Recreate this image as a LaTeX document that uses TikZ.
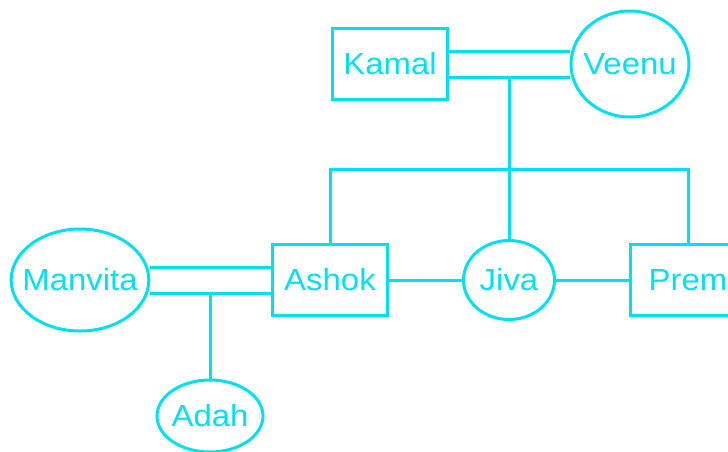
\documentclass[tikz,border=0pt]{standalone}
\usepackage{fontspec}
\setmainfont{Liberation Sans}[FakeStretch=1.08]
\usetikzlibrary{shapes.geometric}
\definecolor{famcyan}{RGB}{0,224,242}

\begin{document}
\begin{tikzpicture}[x=1pt, y=-1pt,
  male/.style={draw=famcyan, line width=3pt, text=famcyan, inner sep=0pt,
    minimum width=115pt, minimum height=71pt, font=\fontsize{30.5}{31}\selectfont},
  female/.style={ellipse, draw=famcyan, line width=3pt, text=famcyan,
    inner xsep=-9pt, inner ysep=0pt, font=\fontsize{30.5}{31}\selectfont},
  link/.style={draw=famcyan, line width=3pt}]
\clip (0,0) rectangle (728,451);
\node[male] (kamal) at (390,64) {Kamal};
\node[female, minimum width=118pt, minimum height=106pt] (veenu) at (630,64) {Veenu};
\node[male] (ashok) at (330,280) {Ashok};
\node[female, minimum width=91pt, minimum height=79pt] (jiva) at (509,280) {Jiva};
\node[male] (prem) at (688,280) {Prem};
\node[female, minimum width=136pt, minimum height=102pt] (manvita) at (80,280) {Manvita};
\node[female, minimum width=106pt, minimum height=72pt] (adah) at (210,416) {Adah};
\coordinate (bar) at (509,169);
\draw[link] ([yshift=13pt]kamal.east) coordinate (kv1) -- (kv1 -| veenu.west);
\draw[link] ([yshift=-13pt]kamal.east) coordinate (kv2) -- (kv2 -| veenu.west);
\draw[link] (kv2 -| jiva.north) -- (jiva.north);
\draw[link] (ashok.north) |- (bar -| prem.north) -- (prem.north);
\draw[link] (ashok.east) -- (jiva.west);
\draw[link] (jiva.east) -- (prem.west);
\draw[link] ([yshift=13pt]ashok.west) coordinate (ma1) -- (ma1 -| manvita.east);
\draw[link] ([yshift=-13pt]ashok.west) coordinate (ma2) -- (ma2 -| manvita.east);
\draw[link] (ma2 -| adah.north) -- (adah.north);
\end{tikzpicture}
\end{document}
